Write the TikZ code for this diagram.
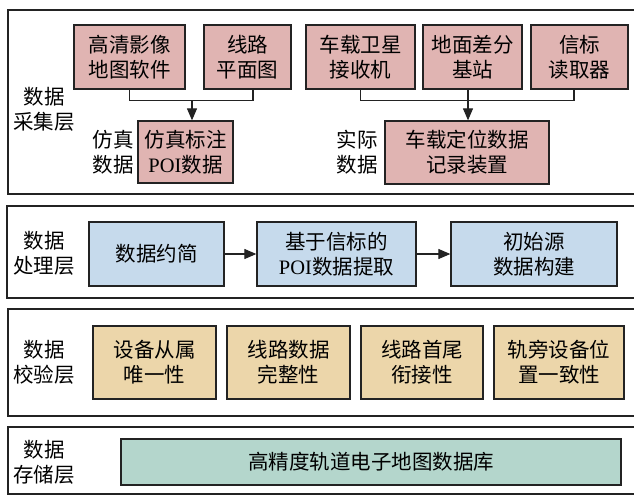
\documentclass[tikz,border=0pt]{standalone}
\usepackage{fontspec}
\setmainfont{Noto Sans CJK SC}
\newfontfamily\latfont{Liberation Serif}
\usetikzlibrary{arrows.meta}
\definecolor{pinkf}{RGB}{224,180,178}
\definecolor{bluef}{RGB}{198,218,236}
\definecolor{tanf}{RGB}{236,214,170}
\definecolor{tealf}{RGB}{180,214,204}
\definecolor{edgec}{RGB}{35,35,35}
\tikzset{
  panel/.style={draw=edgec, line width=1.1pt, inner sep=0pt},
  box/.style={draw=edgec, line width=1.3pt, inner sep=0pt, align=center},
  lbl/.style={inner sep=0pt, align=center},
  conn/.style={draw=edgec, line width=1.1pt},
  arr/.style={conn, -{Triangle[length=12pt,width=10pt]}},
}
\begin{document}
\begin{tikzpicture}[x=1pt,y=-1pt, every node/.style={font=\fontsize{20.5}{25}\selectfont}]
\useasboundingbox (0,0) rectangle (634,496);
\fill[white] (0,0) rectangle (634,496);
% panels
\node[panel, minimum width=632pt, minimum height=184pt] (p1) at (324,102) {};
\node[panel, minimum width=633pt, minimum height=92pt] (p2) at (323.5,252) {};
\node[panel, minimum width=632pt, minimum height=107pt] (p3) at (324,362.5) {};
\node[panel, minimum width=632pt, minimum height=67pt] (p4) at (324,460.5) {};
% layer labels
\node[lbl] (l1) at (44,109) {数据\\采集层};
\node[lbl] (l2) at (44,253) {数据\\处理层};
\node[lbl] (l3) at (44,362) {数据\\校验层};
\node[lbl] (l4) at (44,462) {数据\\存储层};
% acquisition layer
\node[box, fill=pinkf, minimum width=111pt, minimum height=64pt] (a1) at (129.5,57) {高清影像\\地图软件};
\node[box, fill=pinkf, minimum width=87pt, minimum height=64pt] (a2) at (247.5,57) {线路\\平面图};
\node[box, fill=pinkf, minimum width=109pt, minimum height=64pt] (a3) at (360.5,57) {车载卫星\\接收机};
\node[box, fill=pinkf, minimum width=99pt, minimum height=64pt] (a4) at (472.5,57) {地面差分\\基站};
\node[box, fill=pinkf, minimum width=97pt, minimum height=64pt] (a5) at (579.5,57) {信标\\读取器};
\node[box, fill=pinkf, minimum width=95pt, minimum height=62pt] (b1) at (185.5,152) {仿真标注\\{\latfont POI}数据};
\node[box, fill=pinkf, minimum width=164pt, minimum height=63pt] (b2) at (467,152.5) {车载定位数据\\记录装置};
\node[lbl, anchor=east] (s1) at (134,152) {仿真\\数据};
\node[lbl] (s2) at (357,152) {实际\\数据};
\coordinate (j1) at (192,100);
\coordinate (j2) at (468,100);
\draw[conn] (a1.south) -- ++(0,11) -| ([xshift=5.5pt]a2.south);
\draw[arr] (j1) -- (j1 |- b1.north);
\draw[conn] (a3.south) -- ++(0,11) -| ([xshift=-5.5pt]a5.south);
\draw[conn] ([xshift=-4.5pt]a4.south) -- (j2);
\draw[arr] (j2) -- (j2 |- b2.north);
% processing layer
\node[box, fill=bluef, minimum width=135pt, minimum height=64pt] (c1) at (156.5,254) {数据约简};
\node[box, fill=bluef, minimum width=159pt, minimum height=64pt] (c2) at (336.5,254) {基于信标的\\{\latfont POI}数据提取};
\node[box, fill=bluef, minimum width=166pt, minimum height=64pt] (c3) at (534,254) {初始源\\数据构建};
\draw[arr] (c1.east) -- (c2.west);
\draw[arr] (c2.east) -- (c3.west);
% verification layer
\node[box, fill=tanf, minimum width=123pt, minimum height=73pt] (d1) at (154.5,362.5) {设备从属\\唯一性};
\node[box, fill=tanf, minimum width=123pt, minimum height=73pt] (d2) at (288.5,362.5) {线路数据\\完整性};
\node[box, fill=tanf, minimum width=122pt, minimum height=73pt] (d3) at (422,362.5) {线路首尾\\衔接性};
\node[box, fill=tanf, minimum width=130pt, minimum height=73pt] (d4) at (559,362.5) {轨旁设备位\\置一致性};
% storage layer
\node[box, fill=tealf, minimum width=500pt, minimum height=46pt] (e1) at (371,462) {高精度轨道电子地图数据库};
\end{tikzpicture}
\end{document}
